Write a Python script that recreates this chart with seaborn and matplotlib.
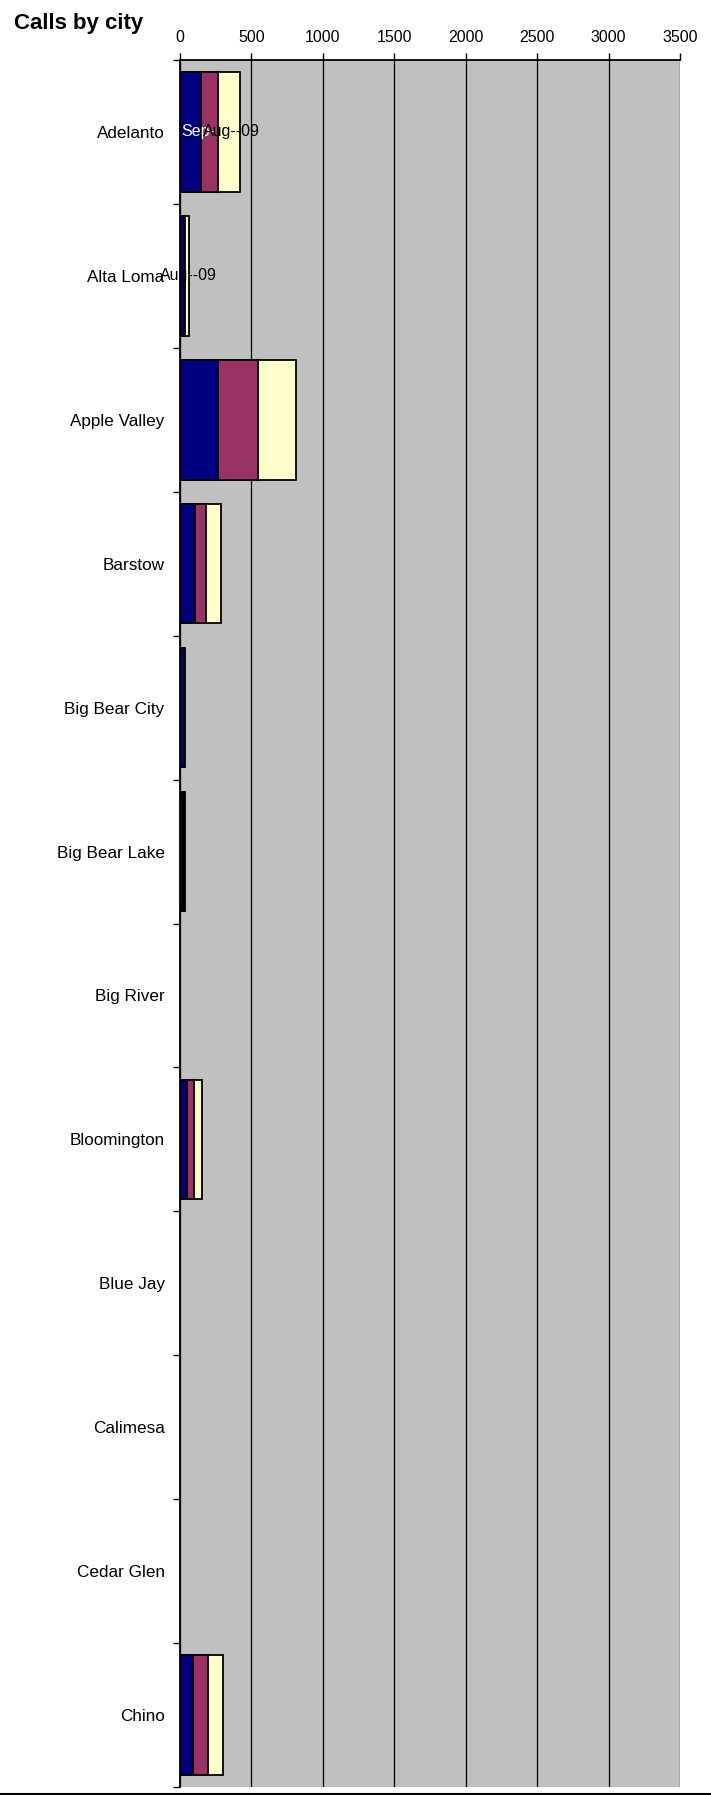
import numpy as np
import pandas as pd
import matplotlib
matplotlib.use("Agg")
import matplotlib.pyplot as plt
from matplotlib.lines import Line2D
import seaborn as sns

cities = ['Adelanto', 'Alta Loma', 'Apple Valley', 'Barstow', 'Big Bear City',
          'Big Bear Lake', 'Big River', 'Bloomington', 'Blue Jay', 'Calimesa',
          'Cedar Glen', 'Chino']
jul = [145, 30, 268, 107, 25, 22, 0, 47, 0, 0, 0, 89]
aug = [124, 8, 276, 73, 5, 6, 0, 53, 0, 0, 0, 105]
sep = [152, 27, 266, 105, 8, 8, 0, 54, 0, 0, 0, 105]
x_ticks = [0, 500, 1000, 1500, 2000, 2500, 3000, 3500]

sns.set_style("white")
plt.rcParams['font.family'] = ['Liberation Sans', 'DejaVu Sans']
plt.rcParams['text.color'] = 'black'
plt.rcParams['xtick.labelcolor'] = 'black'
plt.rcParams['ytick.labelcolor'] = 'black'

df = pd.DataFrame({'city': cities, 'jul': jul, 'aug': aug, 'sep': sep})
df['c1'] = df['jul']
df['c2'] = df['jul'] + df['aug']
df['c3'] = df['c2'] + df['sep']

fig = plt.figure(figsize=(7.11, 17.95), dpi=100)
ax = fig.add_axes([180 / 711, 1 - 1787 / 1795, 500 / 711, (1787 - 60) / 1795])
ax.set_facecolor('#C0C0C0')

# stacked bars: draw totals first, then overlay partial sums
for col, colour in [('c3', '#FFFFCC'), ('c2', '#993366'), ('c1', '#000080')]:
    sns.barplot(data=df, x=col, y='city', orient='h', color=colour,
                edgecolor='black', linewidth=1.3, width=0.83, ax=ax,
                saturation=1, errorbar=None)

ax.set_xlim(0, 3500)
ax.set_ylim(len(cities) - 0.5, -0.5)
ax.set_xlabel('')
ax.set_ylabel('')

ax.xaxis.tick_top()
ax.set_xticks(x_ticks)
ax.tick_params(axis='x', direction='out', length=5, width=1, color='black',
               pad=6, labelsize=11.5)
ax.xaxis.grid(True, color='black', linewidth=0.9)
ax.set_axisbelow(True)

ax.set_yticks(range(len(cities)))
ax.set_yticklabels(cities)
ax.tick_params(axis='y', which='major', length=0, pad=11, labelsize=12.3)
ax.set_yticks(np.arange(-0.5, len(cities), 1), minor=True)
ax.tick_params(axis='y', which='minor', direction='out', length=5, width=1,
               color='black', left=True)

for s in ['right', 'bottom']:
    ax.spines[s].set_visible(False)
for s in ['top', 'left']:
    ax.spines[s].set_color('black')
    ax.spines[s].set_linewidth(1.3)

# overlapping data labels
ax.text(7, 0, 'Sep-', color='white', fontsize=11.5, va='center', ha='left')
ax.text(161, 0, 'Aug--09', color='black', fontsize=11.5, va='center', ha='left')
ax.text(56, 1, 'Aug--09', color='black', fontsize=11.5, va='center', ha='center')

fig.text(14 / 711, 1 - 23 / 1795, 'Calls by city', fontsize=16,
         fontweight='bold', ha='left', va='center')
fig.add_artist(Line2D([0, 1], [1 - 1794 / 1795] * 2, color='black', lw=1.5))

fig.savefig('out.png', dpi=100)
